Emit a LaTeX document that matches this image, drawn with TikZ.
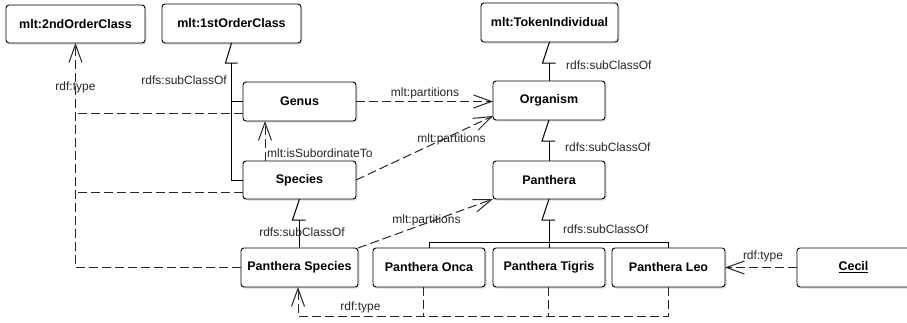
\documentclass[tikz,border=0pt]{standalone}
\usepackage{fontspec}
\setmainfont{Liberation Sans}
\usetikzlibrary{arrows.meta,calc,shadows}
\begin{document}
\begin{tikzpicture}[x=1pt,y=-1pt,
 box/.style={draw=black, line width=0.9pt, rounded corners=3pt, fill=white, inner sep=0pt, outer sep=0pt, anchor=north west, font=\bfseries\fontsize{12.5}{15}\selectfont, drop shadow={shadow xshift=1.5pt, shadow yshift=-1.5pt, opacity=0.25}},
 lbl/.style={font=\fontsize{12}{14}\selectfont, inner sep=0pt, text=black!85},
 gen/.style={line width=1pt, black},
 dep/.style={line width=1pt, black!85, dash pattern=on 9pt off 4pt},
 arr/.style={-{Straight Barb[length=18pt,width=13pt]}}
]
\useasboundingbox (0,0) rectangle (907,322);

% boxes
\node[box, minimum width=139pt, minimum height=38pt] (c2) at (6,5) {mlt:2ndOrderClass};
\node[box, minimum width=139pt, minimum height=39pt] (c1) at (162,4) {mlt:1stOrderClass};
\node[box, minimum width=137pt, minimum height=39pt] (tok) at (481,3) {mlt:TokenIndividual};
\node[box, minimum width=113pt, minimum height=39pt] (genus) at (243,82) {Genus};
\node[box, minimum width=112pt, minimum height=39pt] (org) at (493,81) {Organism};
\node[box, minimum width=113pt, minimum height=38pt] (species) at (243,161) {Species};
\node[box, minimum width=112pt, minimum height=38pt] (panthera) at (493,161) {Panthera};
\node[box, minimum width=117pt, minimum height=39pt] (ps) at (241,248) {Panthera Species};
\node[box, minimum width=112pt, minimum height=39pt] (onca) at (373,248) {Panthera Onca};
\node[box, minimum width=112pt, minimum height=39pt] (tigris) at (493,248) {Panthera Tigris};
\node[box, minimum width=113pt, minimum height=39pt] (leo) at (612,248) {Panthera Leo};
\node[box, minimum width=113pt, minimum height=39pt] (cecil) at (797,248) {\underline{Cecil}};

% generalizations
\draw[gen] (c1.south) -- ++(-6,20) -- ++(12,0);
\coordinate (c1b) at ($(c1.south)+(0,20)$);
\draw[gen] (c1b) |- (genus.west);
\draw[gen] (c1b) |- (species.west);

\draw[gen] (tok.south) -- ++(-7,21) -- ++(13,0);
\draw[gen] ($(tok.south)+(0,21)$) -- (tok.south |- org.north);

\draw[gen] (org.south) -- ++(-7,21) -- ++(13,0);
\draw[gen] ($(org.south)+(0,21)$) -- (panthera.north);

\draw[gen] (panthera.south) -- ++(-7,21) -- ++(13,0);
\draw[gen] ($(panthera.south)+(0,21)$) -- (tigris.north);
\coordinate (busy) at (0,242);
\draw[gen] (onca.north) -- (onca.north |- busy) -- (leo.north |- busy) -- (leo.north);

\draw[gen] (species.south) -- ++(-7,21) -- ++(13,0);
\draw[gen] ($(species.south)+(0,21)$) -- (ps.north);

\node[lbl, anchor=east] (l1) at (227,80) {rdfs:subClassOf};
\node[lbl, anchor=west] (l2) at (566,65) {rdfs:subClassOf};
\node[lbl, anchor=west] (l3) at (565,147) {rdfs:subClassOf};
\node[lbl, anchor=west] (l4) at (563,229) {rdfs:subClassOf};
\node[lbl] (l5) at (302,232) {rdfs:subClassOf};

% partitions
\draw[dep,arr] (genus.east) -- (genus.east -| org.west);
\node[lbl] (p1) at (425,93) {mlt:partitions};
\draw[dep,arr] (species.east) -- ($(org.south west)+(0,-4)$);
\node[lbl] (p2) at (451.5,139) {mlt:partitions};
\draw[dep,arr] (ps.north east) -- (panthera.south west);
\node[lbl] (p3) at (426.5,220) {mlt:partitions};

% subordinate
\draw[dep,arr] ($(species.north west)+(22,0)$) -- ($(genus.south west)+(22,0)$);
\node[lbl, anchor=west] (sub) at (267,153) {mlt:isSubordinateTo};

% rdf:type to 2nd order class
\coordinate (g2) at ($(genus.south west)+(0,-8)$);
\coordinate (s2) at ($(species.south west)+(0,-7)$);
\draw[dep] (g2) -- (g2 -| c2.south);
\draw[dep] (s2) -- (s2 -| c2.south);
\draw[dep,arr] (ps.west) -| (c2.south);
\node[lbl] (t1) at (75.5,87) {rdf:type};

% rdf:type to Panthera Species
\coordinate (bb) at (298,316);
\draw[dep] ($(onca.south)+(-6,0)$) -- ++(0,29);
\draw[dep] ($(tigris.south)+(-1,0)$) -- ++(0,29);
\draw[dep,arr] (leo.south) |- (bb) -- (bb |- ps.south);
\node[lbl] (t2) at (360.5,307) {rdf:type};

% Cecil
\draw[dep,arr] (cecil.west) -- (leo.east);
\node[lbl] (t3) at (763,256) {rdf:type};
\end{tikzpicture}
\end{document}
